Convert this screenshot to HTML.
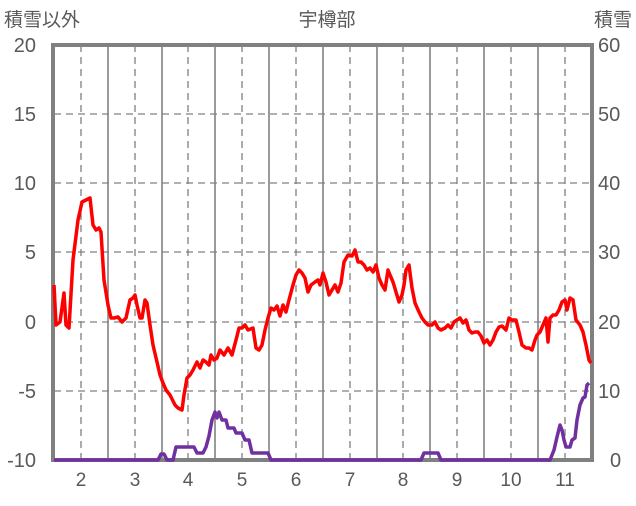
<!DOCTYPE html>
<html><head><meta charset="utf-8"><style>
body{margin:0;background:#fff}
svg text{font-family:"Liberation Sans","Noto Sans CJK JP",sans-serif;fill:#595959}
</style></head><body>
<svg width="636" height="501" xmlns="http://www.w3.org/2000/svg">
<g stroke="#808080" stroke-width="1.3" stroke-dasharray="7,5">
<line x1="54" y1="114" x2="592" y2="114"/><line x1="54" y1="183" x2="592" y2="183"/>
<line x1="54" y1="252" x2="592" y2="252"/><line x1="54" y1="322" x2="592" y2="322"/>
<line x1="54" y1="391" x2="592" y2="391"/>
<line x1="81" y1="45" x2="81" y2="460"/><line x1="135" y1="45" x2="135" y2="460"/>
<line x1="188" y1="45" x2="188" y2="460"/><line x1="242" y1="45" x2="242" y2="460"/>
<line x1="296" y1="45" x2="296" y2="460"/><line x1="350" y1="45" x2="350" y2="460"/>
<line x1="403" y1="45" x2="403" y2="460"/><line x1="457" y1="45" x2="457" y2="460"/>
<line x1="511" y1="45" x2="511" y2="460"/><line x1="565" y1="45" x2="565" y2="460"/>
</g>
<g stroke="#808080" stroke-width="1.6">
<line x1="108" y1="45" x2="108" y2="460"/><line x1="162" y1="45" x2="162" y2="460"/>
<line x1="215" y1="45" x2="215" y2="460"/><line x1="269" y1="45" x2="269" y2="460"/>
<line x1="323" y1="45" x2="323" y2="460"/><line x1="377" y1="45" x2="377" y2="460"/>
<line x1="430" y1="45" x2="430" y2="460"/><line x1="484" y1="45" x2="484" y2="460"/>
<line x1="538" y1="45" x2="538" y2="460"/>
</g>
<rect x="53" y="45" width="539" height="415" fill="none" stroke="#808080" stroke-width="4"/>
<polyline fill="none" stroke="#7030A0" stroke-width="3.5" stroke-linejoin="round" points="54,460 158,460 161,454 164,454 167,460 173,460 176,447 194,447 197,453 203,453 206,447 209,436 212,420 215,412 217,418 219,412 222,420 226,420 228,428 234,428 236,433 242,433 245,440 249,440 252,453 268,453 271,460 421,460 424,453 438,453 441,460 550,460 554,450 557,437 560,425 562,430 564,440 566,447 570,447 572,440 575,438 577,420 580,405 583,398 585,397 587,385 589,383"/>
<polyline fill="none" stroke="#FF0000" stroke-width="3.5" stroke-linejoin="round" points="54,285 56,325 60,322 64,293 66,325 69,328 73,260 78,220 82,202 86,200 90,198 93,225 96,230 99,228 101,232 104,280 108,305 111,318 114,318 118,317 122,322 126,318 130,300 133,298 135,295 137,305 140,318 142,318 145,300 147,303 150,325 153,345 157,362 160,375 163,383 166,390 170,395 175,405 178,408 182,410 184,395 187,378 190,375 193,370 197,362 200,368 203,360 206,362 209,365 211,355 214,360 217,358 220,350 224,355 228,348 232,355 236,340 239,328 242,328 245,325 248,330 253,328 256,348 259,350 262,345 265,330 268,318 271,308 274,310 277,306 280,316 283,305 286,312 289,300 293,285 296,275 299,270 302,273 305,278 308,292 311,285 315,282 318,280 320,285 323,273 326,282 329,295 332,290 335,285 338,292 341,283 344,262 348,255 352,256 355,250 358,262 361,262 364,265 367,270 370,268 373,272 376,265 379,278 382,285 385,290 388,270 390,275 393,282 396,292 399,302 402,295 404,285 406,270 409,265 412,288 415,303 419,312 422,318 425,322 428,325 432,325 435,322 438,328 441,330 445,328 448,325 451,328 454,322 457,320 460,318 463,323 466,320 469,330 472,333 475,332 478,332 481,336 484,343 487,340 490,345 493,340 496,332 499,327 502,326 506,330 509,318 512,320 516,320 519,332 522,345 526,348 529,348 532,350 535,340 537,335 540,332 543,325 546,318 548,342 550,318 553,315 556,315 559,310 562,302 565,300 567,310 570,298 573,300 576,320 580,325 583,332 586,345 589,360 591,363"/>
<g font-size="20" text-anchor="end">
<text x="36" y="52">20</text><text x="36" y="121">15</text><text x="36" y="190">10</text>
<text x="36" y="259">5</text><text x="36" y="329">0</text><text x="36" y="398">-5</text><text x="36" y="467">-10</text>
</g>
<g font-size="20" text-anchor="start">
<text x="598" y="52">60</text><text x="598" y="121">50</text><text x="598" y="190">40</text>
<text x="598" y="259">30</text><text x="598" y="329">20</text><text x="598" y="398">10</text><text x="610" y="467">0</text>
</g>
<g font-size="19" text-anchor="middle">
<text x="81" y="486">2</text><text x="135" y="486">3</text><text x="188" y="486">4</text><text x="242" y="486">5</text>
<text x="296" y="486">6</text><text x="350" y="486">7</text><text x="403" y="486">8</text><text x="457" y="486">9</text>
<text x="511" y="486">10</text><text x="565" y="486">11</text>
</g>
<text x="4" y="26" font-size="19">積雪以外</text>
<text x="327" y="26" font-size="19" text-anchor="middle">宇樽部</text>
<text x="632" y="26" font-size="19" text-anchor="end">積雪</text>
</svg>
</body></html>
